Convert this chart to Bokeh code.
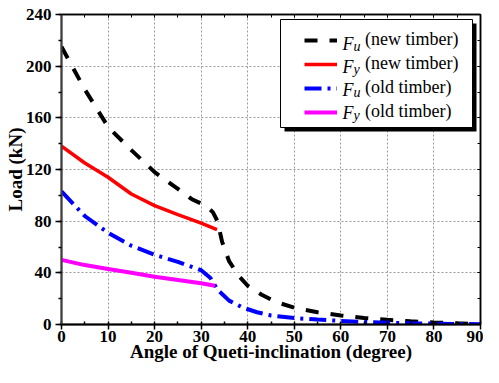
from bokeh.plotting import figure
from bokeh.models import (Range1d, LinearAxis, SingleIntervalTicker, Legend, LegendItem,
                          BoxAnnotation, Label, CustomJSTickFormatter)
from bokeh.embed import file_html
from bokeh.resources import INLINE

# ---- data ----
fu_new_x = [0, 5, 10, 15, 20, 25, 28, 31, 32.5, 33.5, 34.5, 36, 38, 40, 43, 46, 50, 55, 60, 65, 70, 75, 80, 85, 90]
fu_new_y = [215, 182, 153, 135, 118, 105, 97, 92, 87, 80, 64, 49, 38, 30, 23, 17.5, 13, 9.5, 7, 5, 3.6, 2.5, 1.6, 0.9, 0.3]

fy_new_x = [0, 5, 10, 15, 20, 25, 30, 33.4]
fy_new_y = [138, 125, 114, 101, 92, 85, 78.5, 73.5]

fu_old_x = [0, 5, 10, 15, 20, 25, 30, 32, 33.5, 36, 39, 42, 45, 50, 55, 60, 65, 70, 75, 80, 85, 90]
fu_old_y = [103, 84, 71, 61, 54, 48.5, 42, 36, 27, 18.5, 13, 9.5, 7, 5, 3.8, 2.8, 2, 1.4, 1, 0.7, 0.4, 0.2]

fy_old_x = [0, 5, 10, 15, 20, 25, 30, 33]
fy_old_y = [50, 46, 43, 40, 37, 34.5, 32, 30]

legend_sub = ["u", "y", "u", "y"]
legend_txt = ["(new timber)", "(new timber)", "(old timber)", "(old timber)"]

x_label = "Angle of Queti-inclination (degree)"
y_label = "Load (kN)"

FONT = "Liberation Serif"

p = figure(width=483, height=367, output_backend="svg", toolbar_location=None,
           x_range=Range1d(0, 90), y_range=Range1d(0, 240),
           min_border_left=61, min_border_right=3, min_border_top=14, min_border_bottom=43,
           x_axis_label=x_label, y_axis_label=y_label)
p.outline_line_color = "black"
p.outline_line_width = 1.5
p.background_fill_color = "white"
p.border_fill_color = "white"

# axes
p.xaxis.ticker = SingleIntervalTicker(interval=10, num_minor_ticks=2)
p.yaxis.ticker = SingleIntervalTicker(interval=40, num_minor_ticks=2)
for ax in (p.xaxis[0], p.yaxis[0]):
    ax.major_label_text_font = FONT
    ax.major_label_text_font_style = "bold"
    ax.major_label_text_font_size = "17px"
    ax.major_label_text_color = "black"
    ax.axis_label_text_font = FONT
    ax.axis_label_text_font_style = "bold"
    ax.axis_label_text_font_size = "19px"
    ax.axis_label_text_color = "black"
    ax.axis_line_width = 2
    ax.major_tick_line_width = 1.5
    ax.minor_tick_line_width = 1.5
    ax.major_tick_in = 0
ax = p.xaxis[0]
ax.axis_line_color = "black"
ax.major_tick_out = 5
ax.minor_tick_out = 0
ax.minor_tick_in = 3
ax.major_label_standoff = 1
ax.axis_label_standoff = -4
ay = p.yaxis[0]
ay.axis_line_color = "#404040"
ay.major_tick_out = 6
ay.minor_tick_out = 3
ay.minor_tick_in = 0
ay.major_label_standoff = 4
ay.axis_label_standoff = -3

# mirror axes (ticks only, no labels)
blank = CustomJSTickFormatter(code="return ''")
top = LinearAxis(ticker=SingleIntervalTicker(interval=10, num_minor_ticks=2), formatter=blank)
right = LinearAxis(ticker=SingleIntervalTicker(interval=40, num_minor_ticks=2), formatter=blank)
for a in (top, right):
    a.major_label_standoff = 0
    a.major_tick_out = 0
    a.minor_tick_out = 0
    a.major_tick_in = 3
    a.minor_tick_in = 3
    a.axis_line_width = 1.5
    a.major_tick_line_width = 1
    a.minor_tick_line_width = 1
p.add_layout(top, "above")
p.add_layout(right, "right")

# grid
for g in (p.xgrid[0], p.ygrid[0]):
    g.grid_line_color = "#999999"
    g.grid_line_dash = "2 2"
    g.grid_line_width = 1

r1 = p.line(fu_new_x, fu_new_y, line_color="black", line_width=4, line_dash="13 12")
r2 = p.line(fy_new_x, fy_new_y, line_color="#ff0000", line_width=3.5)
r3 = p.line(fu_old_x, fu_old_y, line_color="#0000ff", line_width=4, line_dash="17 6 3 6")
r4 = p.line(fy_old_x, fy_old_y, line_color="#ff00ff", line_width=4)

# frame height with bottom border 43 and top 14: 367-57 = 310
FH = 310
# legend box with shadow (frame screen coordinates: x from left, y from bottom)
shadow = BoxAnnotation(left=223, right=415, top=FH - 9, bottom=FH - 117, left_units="screen",
                       right_units="screen", top_units="screen", bottom_units="screen",
                       fill_color="black", fill_alpha=1, line_alpha=0)
box = BoxAnnotation(left=219, right=411, top=FH - 5, bottom=FH - 113, left_units="screen",
                    right_units="screen", top_units="screen", bottom_units="screen",
                    fill_color="white", fill_alpha=1, line_color="black", line_width=1, line_alpha=1)
p.add_layout(shadow)
p.add_layout(box)

legend = Legend(items=[LegendItem(label=t, renderers=[r]) for t, r in zip(legend_txt, [r1, r2, r3, r4])],
                location=(243, FH - 108), padding=0, spacing=3, glyph_width=33, glyph_height=20,
                label_height=20, label_standoff=28, margin=0,
                label_text_font=FONT, label_text_font_size="18px", label_text_color="black",
                border_line_alpha=0, background_fill_alpha=0)
p.add_layout(legend)

row_y = [FH - 29, FH - 52, FH - 75, FH - 98]
for yy, sub in zip(row_y, legend_sub):
    p.add_layout(Label(x=281, y=yy, x_units="screen", y_units="screen", text="F",
                       text_font=FONT, text_font_style="italic", text_font_size="18px",
                       text_baseline="middle", text_color="black"))
    p.add_layout(Label(x=292, y=yy - 3, x_units="screen", y_units="screen", text=sub,
                       text_font=FONT, text_font_style="italic", text_font_size="14px",
                       text_baseline="middle", text_color="black"))

open("out.html", "w").write(file_html(p, INLINE))
